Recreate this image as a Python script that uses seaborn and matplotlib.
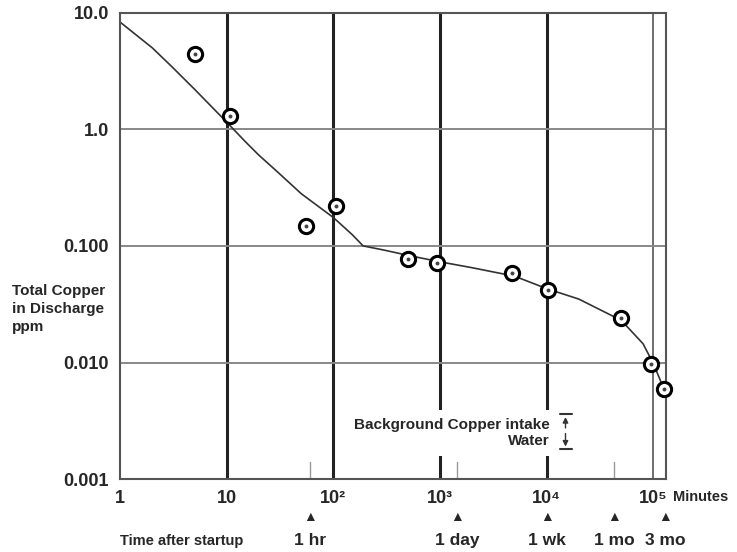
import numpy as np
import pandas as pd
import matplotlib
matplotlib.use("Agg")
import matplotlib.pyplot as plt
import seaborn as sns

# measured copper in discharge (ppm) vs minutes after startup
minutes = [5, 10.7, 55, 106, 500, 930, 4700, 10200, 50000, 95000, 126000]
copper = [4.4, 1.29, 0.148, 0.22, 0.077, 0.071, 0.059, 0.042, 0.024, 0.0098, 0.0059]

# hand-drawn fit curve
curve_x = [1, 2, 3, 5, 10, 15, 20, 30, 50, 100, 150, 190, 300, 500, 1000, 2000,
           5000, 10000, 20000, 50000, 80000, 100000, 118000]
curve_y = [8.3, 5.0, 3.5, 2.2, 1.15, 0.78, 0.6, 0.43, 0.28, 0.175, 0.125, 0.100,
           0.092, 0.083, 0.073, 0.065, 0.055, 0.043, 0.035, 0.023, 0.0145,
           0.0098, 0.0068]

xtick_vals = [1, 10, 100, 1000, 10000, 100000]
xtick_labels = ['1', '10', '10\u00b2', '10\u00b3', '10\u2074', '10\u2075']
ytick_vals = [0.001, 0.01, 0.1, 1.0, 10.0]
ytick_labels = ['0.001', '0.010', '0.100', '1.0', '10.0']

# time markers below the axis
mark_min = [60, 1440, 10080, 43200, 129600]
mark_labels = ['1 hr', '1 day', '1 wk', '1 mo', '3 mo']

sns.set_style("white")
plt.rcParams['font.family'] = ['Liberation Sans', 'DejaVu Sans']

fig = plt.figure(figsize=(7.37, 5.52), dpi=100)
ax = fig.add_axes([0.163, 0.132, 0.740, 0.845])
ax.set_xscale('log')
ax.set_yscale('log')
ax.set_xlim(1, 1.3e5)
ax.set_ylim(0.001, 10)

# grid
for xv in [10, 100, 1000, 10000]:
    ax.axvline(xv, color='#222222', lw=2.2, zorder=1)
ax.axvline(1e5, color='#555555', lw=1.2, zorder=1)
for yv in [0.01, 0.1, 1.0]:
    ax.axhline(yv, color='#888888', lw=1.4, zorder=1)

df_curve = pd.DataFrame({'t': curve_x, 'cu': curve_y})
sns.lineplot(data=df_curve, x='t', y='cu', ax=ax, color='#333333', lw=1.2, zorder=2)

df = pd.DataFrame({'t': minutes, 'cu': copper})
sns.scatterplot(data=df, x='t', y='cu', ax=ax, marker='o', s=105,
                facecolor='white', edgecolor='black', linewidth=2.2, zorder=3)
sns.scatterplot(data=df, x='t', y='cu', ax=ax, marker='o', s=8,
                color='#444444', linewidth=0, zorder=4)
for c in ax.collections:
    c.set_clip_on(False)

for s in ax.spines.values():
    s.set_color('#555555')
    s.set_linewidth(1.5)

ax.set_xticks(xtick_vals)
ax.set_xticklabels(xtick_labels, fontsize=13, fontweight='bold')
ax.set_yticks(ytick_vals)
ax.set_yticklabels(ytick_labels, fontsize=13, fontweight='bold')
ax.minorticks_off()
ax.tick_params(length=0, pad=8)
ax.set_xlabel('')
ax.set_ylabel('')

ax.text(1.065, -0.024, 'Minutes', transform=ax.transAxes, ha='center', va='top',
        fontsize=10.5, fontweight='bold')

# small tick marks at the time markers, inside the axes
for m in [60, 1440, 43200]:
    ax.plot([m, m], [0.001, 0.0014], color='#999999', lw=1, zorder=1)

tr = ax.get_xaxis_transform()
for m, lab in zip(mark_min, mark_labels):
    ax.text(m, -0.082, '\u25B2', transform=tr, ha='center', va='center', fontsize=10,
            clip_on=False)
    ax.text(m, -0.132, lab, transform=tr, ha='center', va='center', fontsize=12.5,
            fontweight='bold', clip_on=False)
ax.text(0.99, -0.132, 'Time after startup', transform=tr, ha='left', va='center',
        fontsize=10.5, fontweight='bold', clip_on=False)

# background copper annotation
ax.text(10700, 0.0025, 'Background Copper intake\nWater', ha='right', va='center',
        fontsize=11, fontweight='bold', linespacing=1.15, zorder=5,
        bbox=dict(facecolor='white', edgecolor='none', pad=6))
bx = 15000
ax.plot([bx * 0.88, bx * 1.14], [0.0036, 0.0036], color='#333333', lw=1.5, zorder=5)
ax.plot([bx * 0.88, bx * 1.14], [0.0018, 0.0018], color='#333333', lw=1.5, zorder=5)
ax.annotate('', xy=(bx, 0.0036), xytext=(bx, 0.0026),
            arrowprops=dict(arrowstyle='-|>', color='#333333', lw=1, mutation_scale=8), zorder=5)
ax.annotate('', xy=(bx, 0.0018), xytext=(bx, 0.0026),
            arrowprops=dict(arrowstyle='-|>', color='#333333', lw=1, mutation_scale=8), zorder=5)

fig.text(0.016, 1 - 309 / 552, 'Total Copper\nin Discharge\nppm', ha='left', va='center',
         fontsize=11, fontweight='bold', linespacing=1.35)

fig.savefig('out.png', dpi=100)
